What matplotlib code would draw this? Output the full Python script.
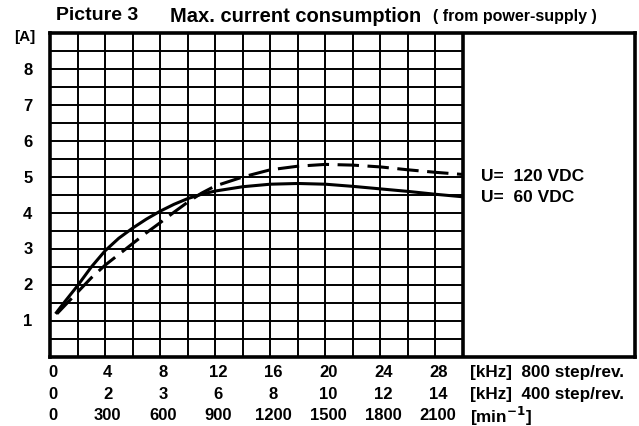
import numpy as np
import matplotlib
matplotlib.use("Agg")
import matplotlib.pyplot as plt
from matplotlib.transforms import blended_transform_factory

# ---- data ----
x_ticks_800 = [0, 4, 8, 12, 16, 20, 24, 28]
labels_800 = ["0", "4", "8", "12", "16", "20", "24", "28"]
labels_400 = ["0", "2", "3", "6", "8", "10", "12", "14"]
labels_rpm = ["0", "300", "600", "900", "1200", "1500", "1800", "2100"]
y_ticks = [1, 2, 3, 4, 5, 6, 7, 8]

# U = 60 VDC (solid)
x_60 = [0.4, 1, 2, 3, 4, 5, 6, 7, 8, 9, 10, 11, 12, 14, 16, 18, 20, 22, 24, 26, 28, 30]
i_60 = [1.2, 1.5, 1.98, 2.5, 2.95, 3.3, 3.58, 3.83, 4.05, 4.24, 4.4, 4.52, 4.61, 4.73, 4.8, 4.82,
        4.8, 4.74, 4.67, 4.6, 4.52, 4.45]
# U = 120 VDC (dashed)
x_120 = [0.5, 1, 2, 3, 4, 5, 6, 7, 8, 9, 10, 11, 12, 14, 16, 18, 20, 22, 24, 26, 28, 30]
i_120 = [1.2, 1.4, 1.8, 2.2, 2.55, 2.85, 3.15, 3.45, 3.73, 4.02, 4.3, 4.55, 4.75, 5.0, 5.2, 5.3,
         5.35, 5.33, 5.28, 5.2, 5.13, 5.07]

plt.rcParams['font.family'] = ['Liberation Sans', 'DejaVu Sans']

W, H = 639, 427
fig = plt.figure(figsize=(W / 100, H / 100), dpi=100)
left_px, right_px, top_px, bot_px = 50, 635, 34, 358
ax = fig.add_axes([left_px / W, 1 - bot_px / H, (right_px - left_px) / W, (bot_px - top_px) / H])

xmax = 30 * (right_px - left_px) / (463 - left_px)
ax.set_xlim(0, xmax)
ax.set_ylim(0, 9)
ax.set_xticks([])
ax.set_yticks([])
for s in ax.spines.values():
    s.set_linewidth(2.6)
    s.set_color('black')

# grid
ax.vlines(np.arange(2, 30, 2), 0, 9, colors='black', linewidth=1.4, zorder=1)
ax.hlines(np.arange(0.5, 9, 0.5), 0, 30, colors='black', linewidth=1.4, zorder=1)
ax.vlines([30], 0, 9, colors='black', linewidth=2.6, zorder=2)

# curves
ax.plot(x_60, i_60, color='black', linewidth=2.2, solid_capstyle='butt', zorder=3)
ax.plot(x_120, i_120, color='black', linewidth=2.2, linestyle=(0, (7, 2.8)), zorder=3)

ax.text(31.3, 5.03, "U=  120 VDC", fontsize=12.5, fontweight='bold', va='center', ha='left')
ax.text(31.3, 4.47, "U=  60 VDC", fontsize=12.5, fontweight='bold', va='center', ha='left')

# y tick labels
for v in y_ticks:
    ax.text(-0.03, v, str(v), transform=blended_transform_factory(ax.transAxes, ax.transData),
            fontsize=12, fontweight='bold', ha='right', va='center')
fig.text(25 / W, 1 - 37 / H, "[A]", fontsize=11, fontweight='bold', ha='center', va='center')

# x tick label rows
tr = blended_transform_factory(ax.transData, fig.transFigure)
rows = [(373, labels_800), (395, labels_400), (416, labels_rpm)]
for ypx, labs in rows:
    for xv, lab in zip(x_ticks_800, labs):
        ax.text(xv + 0.2, 1 - ypx / H, lab, transform=tr, fontsize=12, fontweight='bold',
                ha='center', va='center')
units = ["[kHz]  800 step/rev.", "[kHz]  400 step/rev.", "[min$^{\\mathbf{-1}}$]"]
for (ypx, _), u in zip(rows, units):
    ax.text(30.5, 1 - ypx / H, u, transform=tr, fontsize=12.3, fontweight='bold',
            ha='left', va='center')

# title
fig.text(56 / W, 1 - 16 / H, "Picture 3", fontsize=14, fontweight='heavy', ha='left', va='center')
fig.text(170 / W, 1 - 16 / H, "Max. current consumption", fontsize=14.5, fontweight='bold',
         ha='left', va='center')
fig.text(433 / W, 1 - 16 / H, "( from power-supply )", fontsize=11.5, fontweight='bold',
         ha='left', va='center')

fig.savefig("out.png", dpi=100)
